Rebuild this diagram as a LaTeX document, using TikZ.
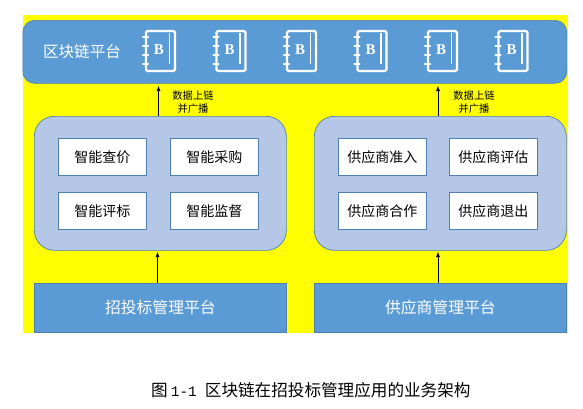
\documentclass[tikz,border=0pt]{standalone}
\usepackage{fontspec}
\setmainfont{Liberation Serif}
\newfontfamily\cjk{Noto Sans CJK SC}
\newfontfamily\capmono{Liberation Mono}
\definecolor{barblue}{HTML}{5B9BD5}
\definecolor{edgeblue}{HTML}{4F7FB0}
\definecolor{panelblue}{HTML}{B4C7E7}
\definecolor{pureyellow}{RGB}{255,255,0}
\usetikzlibrary{arrows.meta}
\tikzset{
  x=1pt,y=-1pt,
  platform/.style={draw=edgeblue,fill=barblue,line width=0.7pt,text=white,font=\cjk\fontsize{15.8}{18}\selectfont,inner sep=0pt,anchor=north west},
  panel/.style={draw=edgeblue,fill=panelblue,line width=0.7pt,rounded corners=20pt,inner sep=0pt,anchor=north west,minimum width=252pt,minimum height=134pt},
  func/.style={draw=edgeblue,fill=white,line width=0.7pt,font=\cjk\fontsize{14}{16}\selectfont,inner sep=0pt,minimum width=88pt,minimum height=37pt,anchor=north west},
  flow/.style={-{Latex[length=5pt,width=4pt]},black,line width=0.5pt},
  note/.style={font=\cjk\fontsize{10.3}{12.5}\selectfont,align=center,inner sep=0pt},
  bookline/.style={draw=white,line width=2.2pt},
  pics/book/.style={code={
    \draw[bookline,rounded corners=1.5pt] (-13,-20) rectangle (16,20);
    \draw[bookline,line width=1.8pt] (10.5,-18) -- (10.5,13);
    \foreach \yy in {-14,-5,4,13}{\draw[bookline,line cap=round] (-16,\yy) -- (-11,\yy);}
    \node[text=white,font=\bfseries\fontsize{15}{15}\selectfont,inner sep=0pt] at (0,-1) {B};
  }}
}
\begin{document}
\begin{tikzpicture}
\useasboundingbox (0,0) rectangle (583,408);
\fill[pureyellow] (23,15) rectangle (568,333);
\node[platform,rounded corners=12pt,minimum width=544pt,minimum height=63pt] (chain) at (22.5,20) {};
\node[text=white,font=\cjk\fontsize{15.6}{18}\selectfont,inner sep=0pt] (chaintitle) at (82,52) {区块链平台};
\foreach \i/\cx in {1/159,2/229.5,3/300,4/370.5,5/441,6/511.5}{\pic (book\i) at (\cx,51) {book};}
\node[panel] (left) at (34,116) {};
\node[panel] (right) at (314,116) {};
\node[func] (a1) at (58,138) {智能查价};
\node[func] (a2) at (170,138) {智能采购};
\node[func] (a3) at (58,192) {智能评标};
\node[func] (a4) at (170,192) {智能监督};
\node[func] (b1) at (338,138) {供应商准入};
\node[func] (b2) at (449,138) {供应商评估};
\node[func] (b3) at (338,192) {供应商合作};
\node[func] (b4) at (449,192) {供应商退出};
\node[platform,minimum width=252pt,minimum height=49pt] (pa) at (34,283) {招投标管理平台};
\node[platform,minimum width=252pt,minimum height=49pt] (pb) at (314,283) {供应商管理平台};
\coordinate (t1) at (158.5,86);
\coordinate (t2) at (438,86);
\coordinate (t3) at (157.5,252);
\coordinate (t4) at (438,252);
\draw[flow] (left.north -| t1) -- (t1);
\draw[flow] (right.north -| t2) -- (t2);
\draw[flow] (pa.north -| t3) -- (t3);
\draw[flow] (pb.north -| t4) -- (t4);
\node[note] (n1) at (193,102) {数据上链\\并广播};
\node[note] (n2) at (474,102) {数据上链\\并广播};
\node[font=\cjk\fontsize{16.6}{18}\selectfont,inner sep=0pt,anchor=west] (cap) at (151,390) {图\hspace{3pt}{\capmono\fontsize{14.5}{17}\selectfont 1-1}\hspace{8pt}区块链在招投标管理应用的业务架构};
\end{tikzpicture}
\end{document}
